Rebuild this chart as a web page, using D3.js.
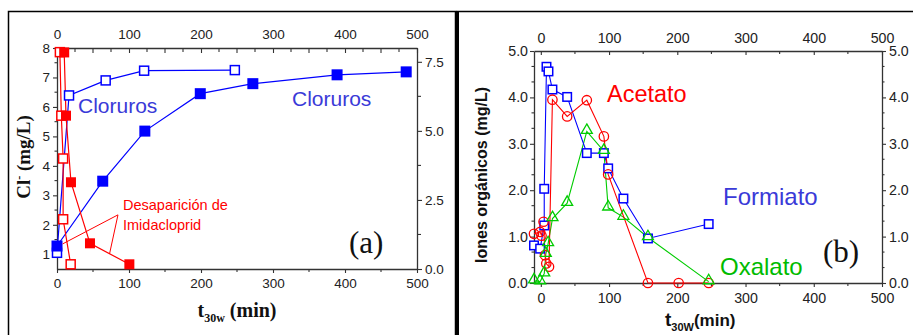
<!DOCTYPE html>
<html><head><meta charset="utf-8">
<script src="https://cdn.jsdelivr.net/npm/d3@7"></script>
<style>body{margin:0;background:#fff}svg{display:block}</style>
</head><body>
<svg id="c" width="913" height="335"></svg>
<script>
// ---------- Panel (a) data ----------
const clFilledT = [0, 63.5, 122, 199, 272, 389, 485];
const clFilledV = [1.28, 3.48, 5.18, 6.45, 6.79, 7.09, 7.19];
const clOpenT = [0, 16.7, 67.6, 121, 247];
const clOpenV = [1.05, 6.39, 6.9, 7.23, 7.25];
const imiFilledT = [10, 12.5, 19.4, 45.8, 100.5];
const imiFilledV = [7.84, 5.55, 3.14, 0.93, 0.17];
const imiOpenT = [4, 6, 8.5, 8.5, 19];
const imiOpenV = [7.85, 5.55, 4.0, 1.8, 0.17];
const aXTicks = [0, 100, 200, 300, 400, 500];
const aYLeftTicks = [1, 2, 3, 4, 5, 6, 7, 8];
const aYRightTicks = [0, 2.5, 5, 7.5];
// annotation pointer (data coords, right axis)
const annApex = [84.7, 1.96];
const annEnds = [[7.9, 0.91], [73, 0.55]];

// ---------- Panel (b) data ----------
const formT = [-10, -1, 5, 5, 8.3, 11.2, 17, 38.6, 67.4, 92.4, 98.7, 121, 157, 246];
const formV = [0.81, 0.74, 1.24, 2.03, 4.66, 4.56, 4.17, 4.01, 2.8, 2.8, 2.47, 1.82, 0.96, 1.27];
const acetT = [-10, -1, 1, 4, 6, 8, 12, 17, 38.6, 67.4, 92.4, 98.7, 157, 202, 246];
const acetV = [1.06, 1.1, 1.02, 1.32, 0.6, 0.42, 0.35, 3.95, 3.59, 3.94, 3.16, 2.34, 0, 0, 0];
const oxalT = [-10, -1, 5, 7.3, 10.7, 17.1, 38.6, 67.4, 92.4, 98.7, 121, 157, 246];
const oxalV = [0.05, 0.03, 0.2, 0.62, 0.85, 1.39, 1.72, 3.27, 2.84, 1.62, 1.42, 0.98, 0.03];
const bXTicks = [0, 100, 200, 300, 400, 500];
const bYTicks = [0, 1, 2, 3, 4, 5];

const svg = d3.select("#c");
const SANS = "'Liberation Sans', Arial, sans-serif";
const SERIF = "'Liberation Serif', 'Times New Roman', serif";
const BLUE = "#0000ff", RED = "#ff0000", GREEN = "#00cc00";

// frames
svg.append("rect").attr("x", 8.5).attr("y", 11.5).attr("width", 447).attr("height", 340)
  .attr("fill", "none").attr("stroke", "#000").attr("stroke-width", 1.5);
svg.append("line").attr("x1", 457.5).attr("x2", 457.5).attr("y1", 11).attr("y2", 335)
  .attr("stroke", "#000").attr("stroke-width", 3);
svg.append("line").attr("x1", 456).attr("x2", 913).attr("y1", 11.5).attr("y2", 11.5)
  .attr("stroke", "#000").attr("stroke-width", 1.5);

function styleAxis(g, fs) {
  g.selectAll("path.domain").attr("stroke", "#333").attr("stroke-width", 1.3);
  g.selectAll(".tick line").attr("stroke", "#333").attr("stroke-width", 1.1);
  g.selectAll(".tick text").attr("font-family", SANS).attr("font-size", fs).attr("fill", "#222");
}
function minor(g, scale, vals, orient, pos, len) {
  vals.forEach(v => {
    const p = scale(v);
    if (orient === "bottom") g.append("line").attr("x1", p).attr("x2", p).attr("y1", pos).attr("y2", pos + len);
    if (orient === "top") g.append("line").attr("x1", p).attr("x2", p).attr("y1", pos).attr("y2", pos + len);
    if (orient === "left") g.append("line").attr("y1", p).attr("y2", p).attr("x1", pos).attr("x2", pos - len);
    if (orient === "right") g.append("line").attr("y1", p).attr("y2", p).attr("x1", pos).attr("x2", pos + len);
  });
  g.selectAll("line").attr("stroke", "#333").attr("stroke-width", 1.1);
}

// ======== Panel (a) ========
const xA = d3.scaleLinear().domain([0, 500]).range([57, 417]);
const yL = d3.scaleLinear().domain([0.5, 8]).range([269, 48]);
const yR = d3.scaleLinear().domain([0, 8]).range([269, 48]);

const gA = svg.append("g");
let ax = gA.append("g").attr("transform", "translate(0,269)")
  .call(d3.axisBottom(xA).tickValues(aXTicks).tickSize(4).tickPadding(5).tickSizeOuter(0));
styleAxis(ax, 13.5);
minor(gA.append("g"), xA, [50, 150, 250, 350, 450], "bottom", 269, 3);
ax = gA.append("g").attr("transform", "translate(0,48)")
  .call(d3.axisTop(xA).tickValues(aXTicks).tickSize(-5).tickPadding(9).tickSizeOuter(0));
styleAxis(ax, 13.5);
minor(gA.append("g"), xA, d3.range(25, 500, 50), "top", 48, 4);
minor(gA.append("g"), xA, [50, 150, 250, 350, 450], "top", 48, 5);
ax = gA.append("g").attr("transform", "translate(57,0)")
  .call(d3.axisLeft(yL).tickValues(aYLeftTicks).tickSize(4).tickPadding(3).tickSizeOuter(0));
styleAxis(ax, 13.5);
minor(gA.append("g"), yL, [1.5, 2.5, 3.5, 4.5, 5.5, 6.5, 7.5], "left", 57, 2.5);
ax = gA.append("g").attr("transform", "translate(417,0)")
  .call(d3.axisRight(yR).tickValues(aYRightTicks).tickFormat(d3.format(".1f")).tickSize(5).tickPadding(3).tickSizeOuter(0));
styleAxis(ax, 13.5);
minor(gA.append("g"), yR, [1.25, 3.75, 6.25], "right", 417, 4);

const lineA = (ts, vs, y) => d3.line()(ts.map((t, i) => [xA(t), y(vs[i])]));
gA.append("path").attr("d", lineA(clFilledT, clFilledV, yL)).attr("fill", "none").attr("stroke", BLUE).attr("stroke-width", 1.2);
gA.append("path").attr("d", lineA(clOpenT, clOpenV, yL)).attr("fill", "none").attr("stroke", BLUE).attr("stroke-width", 1.2);
gA.append("path").attr("d", lineA(imiOpenT, imiOpenV, yR)).attr("fill", "none").attr("stroke", RED).attr("stroke-width", 1.2);
gA.append("path").attr("d", lineA(imiFilledT, imiFilledV, yR)).attr("fill", "none").attr("stroke", RED).attr("stroke-width", 1.2);

function squares(g, xs, ys, xsc, ysc, size, color, filled) {
  g.selectAll(null).data(xs).enter().append("rect")
    .attr("x", (d, i) => xsc(d) - size / 2).attr("y", (d, i) => ysc(ys[i]) - size / 2)
    .attr("width", size).attr("height", size)
    .attr("fill", filled ? color : "#fff").attr("stroke", color).attr("stroke-width", filled ? 0 : 1.5);
}
squares(gA, clOpenT, clOpenV, xA, yL, 9, BLUE, false);
squares(gA, imiOpenT, imiOpenV, xA, yR, 9, RED, false);
squares(gA, clFilledT, clFilledV, xA, yL, 11, BLUE, true);
squares(gA, imiFilledT, imiFilledV, xA, yR, 10, RED, true);

annEnds.forEach(e => {
  gA.append("line").attr("x1", xA(annApex[0])).attr("y1", yR(annApex[1]))
    .attr("x2", xA(e[0])).attr("y2", yR(e[1])).attr("stroke", RED).attr("stroke-width", 1);
});

gA.append("text").attr("x", 78).attr("y", 113).text("Cloruros")
  .attr("font-family", SANS).attr("font-size", 21).attr("fill", "#3a3ad8");
gA.append("text").attr("x", 292).attr("y", 106).text("Cloruros")
  .attr("font-family", SANS).attr("font-size", 21).attr("fill", "#3a3ad8");
gA.append("text").attr("x", 123).attr("y", 210).text("Desaparición de")
  .attr("font-family", SANS).attr("font-size", 14.5).attr("fill", RED);
gA.append("text").attr("x", 123).attr("y", 230).text("Imidacloprid")
  .attr("font-family", SANS).attr("font-size", 14.5).attr("fill", RED);
gA.append("text").attr("x", 349).attr("y", 253).text("(a)")
  .attr("font-family", SERIF).attr("font-size", 31).attr("fill", "#111");
const yla = gA.append("text").attr("transform", "translate(30,157) rotate(-90)")
  .attr("text-anchor", "middle").attr("font-family", SERIF).attr("font-weight", "bold")
  .attr("font-size", 19).attr("fill", "#111");
yla.append("tspan").text("Cl");
yla.append("tspan").text("-").attr("font-size", 12).attr("dy", -7);
yla.append("tspan").text(" (mg/L)").attr("dy", 7);
const xla = gA.append("text").attr("x", 237).attr("y", 317)
  .attr("text-anchor", "middle").attr("font-family", SERIF).attr("font-weight", "bold")
  .attr("font-size", 20).attr("fill", "#111");
xla.append("tspan").text("t");
xla.append("tspan").text("30w").attr("font-size", 12).attr("dy", 5);
xla.append("tspan").text(" (min)").attr("dy", -5);

// ======== Panel (b) ========
const xB = d3.scaleLinear().domain([-10, 500]).range([534, 882]);
const yB = d3.scaleLinear().domain([0, 5]).range([283, 51]);
const gB = svg.append("g");
const fmt1 = d3.format(".1f");
ax = gB.append("g").attr("transform", "translate(0,283)")
  .call(d3.axisBottom(xB).tickValues(bXTicks).tickSize(4).tickPadding(6).tickSizeOuter(0));
styleAxis(ax, 14.2);
minor(gB.append("g"), xB, [50, 150, 250, 350, 450], "bottom", 283, 3);
ax = gB.append("g").attr("transform", "translate(0,51)")
  .call(d3.axisTop(xB).tickValues(bXTicks).tickSize(-4).tickPadding(8).tickSizeOuter(0));
styleAxis(ax, 14.2);
minor(gB.append("g"), xB, [50, 150, 250, 350, 450], "top", 51, 3);
ax = gB.append("g").attr("transform", "translate(534,0)")
  .call(d3.axisLeft(yB).tickValues(bYTicks).tickFormat(fmt1).tickSize(4).tickPadding(2).tickSizeOuter(0));
styleAxis(ax, 14.2);
const bMinor = [];
bYTicks.slice(0, -1).forEach(v => { bMinor.push(v + 1 / 3, v + 2 / 3); });
minor(gB.append("g"), yB, bMinor, "left", 534, 2.5);
ax = gB.append("g").attr("transform", "translate(882,0)")
  .call(d3.axisRight(yB).tickValues(bYTicks).tickFormat(fmt1).tickSize(4).tickPadding(3).tickSizeOuter(0));
styleAxis(ax, 14.2);
minor(gB.append("g"), yB, bMinor, "right", 882, 2.5);

const lineB = (ts, vs) => d3.line()(ts.map((t, i) => [xB(t), yB(vs[i])]));
gB.append("path").attr("d", lineB(oxalT, oxalV)).attr("fill", "none").attr("stroke", GREEN).attr("stroke-width", 1.1);
gB.append("path").attr("d", lineB(formT, formV)).attr("fill", "none").attr("stroke", BLUE).attr("stroke-width", 1.1);
gB.append("path").attr("d", lineB(acetT, acetV)).attr("fill", "none").attr("stroke", RED).attr("stroke-width", 1.1);

squares(gB, formT, formV, xB, yB, 8.5, BLUE, false);
gB.selectAll(null).data(acetT).enter().append("circle")
  .attr("cx", d => xB(d)).attr("cy", (d, i) => yB(acetV[i])).attr("r", 4.7)
  .attr("fill", "none").attr("stroke", RED).attr("stroke-width", 1.3);
const tri = d3.symbol().type(d3.symbolTriangle).size(52);
gB.selectAll(null).data(oxalT).enter().append("path")
  .attr("d", tri).attr("transform", (d, i) => `translate(${xB(d)},${yB(oxalV[i]) - 1})`)
  .attr("fill", "none").attr("stroke", GREEN).attr("stroke-width", 1.3);

gB.append("text").attr("x", 607).attr("y", 102).text("Acetato")
  .attr("font-family", SANS).attr("font-size", 23.5).attr("fill", RED);
gB.append("text").attr("x", 723).attr("y", 205).text("Formiato")
  .attr("font-family", SANS).attr("font-size", 24).attr("fill", "#3a3ad8");
gB.append("text").attr("x", 720).attr("y", 275).text("Oxalato")
  .attr("font-family", SANS).attr("font-size", 24).attr("fill", "#00bb00");
gB.append("text").attr("x", 823).attr("y", 262).text("(b)")
  .attr("font-family", SERIF).attr("font-size", 31).attr("fill", "#111");
gB.append("text").attr("transform", "translate(487,175) rotate(-90)")
  .attr("text-anchor", "middle").attr("font-family", SANS).attr("font-weight", "bold")
  .attr("font-size", 16).attr("fill", "#111").text("Iones orgánicos (mg/L)");
const xlb = gB.append("text").attr("x", 665).attr("y", 326)
  .attr("font-family", SANS).attr("font-weight", "bold")
  .attr("font-size", 17).attr("fill", "#111");
xlb.append("tspan").text("t").attr("font-size", 19);
xlb.append("tspan").text("30W").attr("font-size", 11).attr("dy", 5);
xlb.append("tspan").text("(min)").attr("dy", -5);
</script>
</body></html>
